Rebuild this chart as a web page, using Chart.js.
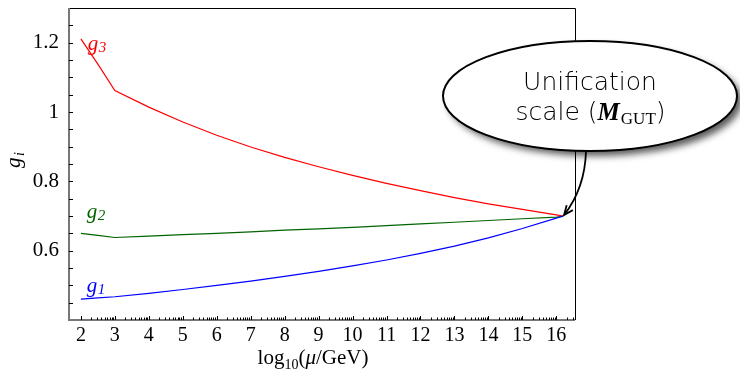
<!DOCTYPE html>
<html>
<head>
<meta charset="utf-8">
<script src="https://cdn.jsdelivr.net/npm/chart.js@4.4.1/dist/chart.umd.min.js"></script>
<style>
  body { margin: 0; background: #fff; }
  #wrap { width: 740px; height: 375px; }
</style>
</head>
<body>
<div id="wrap"><canvas id="gutChart" width="740" height="375"></canvas></div>
<script>
// log10(mu/GeV) sample points
const scales = [2, 2.5, 3, 4, 5, 6, 7, 8, 9, 10, 11, 12, 13, 14, 15, 16, 16.2];
const g1 = [0.460, 0.464, 0.467, 0.477, 0.488, 0.500, 0.512, 0.526, 0.540, 0.556, 0.573, 0.592, 0.613, 0.637, 0.664, 0.694, 0.700];
const g2 = [0.650, 0.644, 0.638, 0.642, 0.646, 0.650, 0.654, 0.659, 0.663, 0.667, 0.672, 0.677, 0.682, 0.687, 0.692, 0.697, 0.699];
const g3 = [1.211, 1.138, 1.062, 1.014, 0.971, 0.933, 0.899, 0.869, 0.842, 0.817, 0.794, 0.773, 0.753, 0.735, 0.719, 0.703, 0.700];

const xTicks = [2, 3, 4, 5, 6, 7, 8, 9, 10, 11, 12, 13, 14, 15, 16];
const yTicks = [0.6, 0.8, 1.0, 1.2];
const yTickLabels = ['0.6', '0.8', '1', '1.2'];
const gutPoint = { x: 16.2, y: 0.700 };

const serif = '"Liberation Serif", "DejaVu Serif", serif';

function pts(ys) {
  return scales.map((x, i) => ({ x: x, y: ys[i] }));
}

function seg(ctx, x1, y1, x2, y2) {
  ctx.beginPath();
  ctx.moveTo(x1, y1);
  ctx.lineTo(x2, y2);
  ctx.stroke();
}

function noPad(s) {
  s.paddingTop = 0;
  s.paddingBottom = 0;
  s.paddingLeft = 0;
  s.paddingRight = 0;
}

const decorations = {
  id: 'decorations',
  afterDraw(chart) {
    const ctx = chart.ctx;
    const a = chart.chartArea;
    const xs = chart.scales.x, ys = chart.scales.y;
    ctx.save();

    // frame
    ctx.strokeStyle = '#000';
    ctx.lineWidth = 1;
    ctx.beginPath();
    ctx.moveTo(a.left, a.top + 0.5);
    ctx.lineTo(a.right + 0.5, a.top + 0.5);
    ctx.lineTo(a.right + 0.5, a.bottom);
    ctx.stroke();
    ctx.strokeStyle = '#777';
    ctx.lineWidth = 2;
    ctx.beginPath();
    ctx.moveTo(a.left, a.top);
    ctx.lineTo(a.left, a.bottom);
    ctx.lineTo(a.right, a.bottom);
    ctx.stroke();

    // inward ticks
    ctx.strokeStyle = '#000';
    ctx.lineWidth = 1;
    for (let v = 0.45; v < ys.max; v += 0.05) {
      const py = Math.round(ys.getPixelForValue(v)) + 0.5;
      seg(ctx, a.left, py, a.left + 4, py);
    }
    for (let n = 2; n <= 16; n++) {
      let px = Math.round(xs.getPixelForValue(n)) + 0.5;
      seg(ctx, px, a.bottom, px, a.bottom - 4);
      for (let k = 2; k <= 9; k++) {
        const v = n + Math.log10(k);
        if (v > xs.max) break;
        px = Math.round(xs.getPixelForValue(v)) + 0.5;
        seg(ctx, px, a.bottom, px, a.bottom - 2.5);
      }
    }

    // series labels
    const lab = (txt, sub, x, y, color) => {
      const px = xs.getPixelForValue(x), py = ys.getPixelForValue(y);
      ctx.fillStyle = color;
      ctx.textBaseline = 'alphabetic';
      ctx.textAlign = 'left';
      ctx.font = 'italic 21px ' + serif;
      ctx.fillText(txt, px, py);
      const w = ctx.measureText(txt).width;
      ctx.font = 'italic 15px ' + serif;
      ctx.fillText(sub, px + w + 0.5, py + 2);
    };
    lab('g', '3', 2.2, 1.18, '#ff0000');
    lab('g', '2', 2.17, 0.693, '#006400');
    lab('g', '1', 2.17, 0.482, '#0000ff');

    // axis titles
    ctx.fillStyle = '#000';
    ctx.textBaseline = 'alphabetic';
    ctx.textAlign = 'left';
    const parts = [
      ['log', '21px ' + serif, 0],
      ['10', '14px ' + serif, 5],
      ['(', '21px ' + serif, 0],
      ['\u03bc', 'italic 21px ' + serif, 0],
      ['/GeV)', '21px ' + serif, 0]
    ];
    let total = 0;
    parts.forEach(p => { ctx.font = p[1]; total += ctx.measureText(p[0]).width; });
    let cx = 313 - total / 2;
    parts.forEach(p => {
      ctx.font = p[1];
      ctx.fillText(p[0], cx, 364 + p[2]);
      cx += ctx.measureText(p[0]).width;
    });

    ctx.save();
    ctx.translate(20, 168);
    ctx.rotate(-Math.PI / 2);
    ctx.font = 'italic 21px ' + serif;
    ctx.fillText('g', 0, 0);
    ctx.font = 'italic 14px ' + serif;
    ctx.fillText('i', ctx.measureText('g').width + 5, 4);
    ctx.restore();

    // callout
    const ex = 590, ey = 96, rx = 147, ry = 55;
    ctx.save();
    ctx.shadowColor = 'rgba(0,0,0,0.65)';
    ctx.shadowBlur = 7;
    ctx.shadowOffsetX = 5;
    ctx.shadowOffsetY = 5;
    ctx.fillStyle = '#fff';
    ctx.beginPath();
    ctx.ellipse(ex, ey, rx, ry, 0, 0, Math.PI * 2);
    ctx.fill();
    ctx.restore();
    ctx.strokeStyle = '#000';
    ctx.lineWidth = 2;
    ctx.beginPath();
    ctx.ellipse(ex, ey, rx, ry, 0, 0, Math.PI * 2);
    ctx.stroke();

    // arrow to the unification point
    const tx = xs.getPixelForValue(gutPoint.x) + 1, ty = ys.getPixelForValue(gutPoint.y) - 1;
    const sx = 586, sy = ey + ry, qx = 585, qy = 188;
    ctx.lineWidth = 1.8;
    ctx.beginPath();
    ctx.moveTo(sx, sy);
    ctx.quadraticCurveTo(qx, qy, tx, ty);
    ctx.stroke();
    const ang = Math.atan2(ty - qy, tx - qx);
    ctx.beginPath();
    ctx.moveTo(tx - 10 * Math.cos(ang - 0.4), ty - 10 * Math.sin(ang - 0.4));
    ctx.lineTo(tx, ty);
    ctx.lineTo(tx - 10 * Math.cos(ang + 0.4), ty - 10 * Math.sin(ang + 0.4));
    ctx.stroke();

    const sans = '"DejaVu Sans", sans-serif';
    ctx.fillStyle = '#000';
    ctx.textAlign = 'center';
    ctx.font = '300 25px ' + sans;
    ctx.fillText('Unification', ex, 90);
    const line2 = [
      ['scale (', '300 25px ' + sans, 0],
      ['M', 'italic bold 25px ' + serif, 0],
      ['GUT', '17px ' + serif, 4],
      [')', '300 25px ' + sans, 0]
    ];
    ctx.textAlign = 'left';
    total = 0;
    line2.forEach(p => { ctx.font = p[1]; total += ctx.measureText(p[0]).width; });
    cx = ex - total / 2;
    line2.forEach(p => {
      ctx.font = p[1];
      ctx.fillText(p[0], cx, 120 + p[2]);
      cx += ctx.measureText(p[0]).width + (p[0] === 'M' ? 1 : 0);
    });

    ctx.restore();
  }
};

new Chart(document.getElementById('gutChart'), {
  type: 'line',
  data: {
    datasets: [
      { label: 'g1', data: pts(g1), borderColor: '#0000ff', borderWidth: 1.2, pointRadius: 0, fill: false },
      { label: 'g2', data: pts(g2), borderColor: '#006400', borderWidth: 1.2, pointRadius: 0, fill: false },
      { label: 'g3', data: pts(g3), borderColor: '#ff0000', borderWidth: 1.2, pointRadius: 0, fill: false }
    ]
  },
  options: {
    responsive: false,
    animation: false,
    events: [],
    layout: { padding: { top: 8, right: 165, left: 0, bottom: 0 } },
    plugins: {
      legend: { display: false },
      tooltip: { enabled: false }
    },
    scales: {
      x: {
        type: 'linear',
        min: 1.65,
        max: 16.55,
        grid: { display: false, drawTicks: false },
        border: { display: false },
        afterBuildTicks: s => { s.ticks = xTicks.map(v => ({ value: v })); },
        afterFit: s => { s.height = 55; noPad(s); },
        ticks: {
          color: '#000',
          padding: 4,
          maxRotation: 0,
          autoSkip: false,
          font: { family: serif, size: 20 },
          callback: v => String(v)
        }
      },
      y: {
        min: 0.4,
        max: 1.3,
        grid: { display: false, drawTicks: false },
        border: { display: false },
        afterBuildTicks: s => { s.ticks = yTicks.map(v => ({ value: v })); },
        afterFit: s => { s.width = 69; noPad(s); },
        ticks: {
          color: '#000',
          padding: 10,
          autoSkip: false,
          font: { family: serif, size: 21 },
          callback: v => yTickLabels[yTicks.findIndex(t => Math.abs(t - v) < 1e-6)]
        }
      }
    }
  },
  plugins: [decorations]
});
</script>
</body>
</html>
